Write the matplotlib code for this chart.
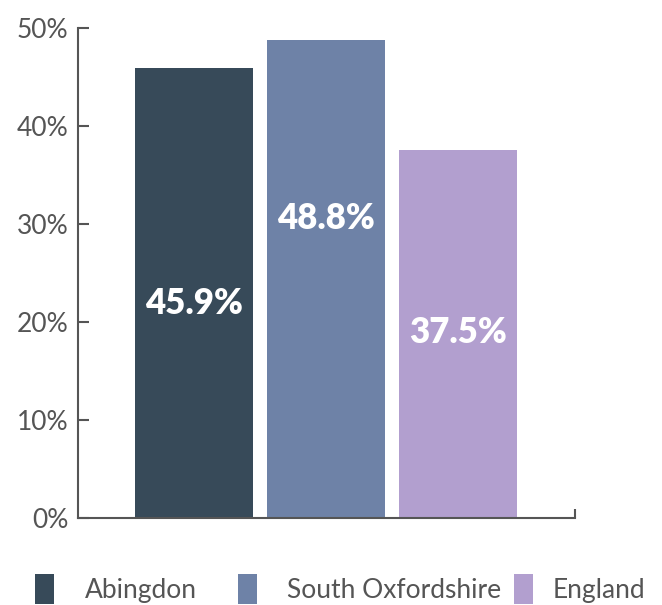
import matplotlib.pyplot as plt
from matplotlib.patches import Patch

areas = ["Abingdon", "South Oxfordshire", "England"]
values = [45.9, 48.8, 37.5]
colors = ["#374a59", "#6e82a7", "#b29fcf"]
yticks = [0, 10, 20, 30, 40, 50]

plt.rcParams["font.family"] = ["Lato", "DejaVu Sans"]

fig = plt.figure(figsize=(6.62, 6.05), dpi=100)
ax = fig.add_axes([0.1178, 0.1438, 0.7508, 0.81])

x = range(len(areas))
ax.bar(x, values, width=0.894, color=colors)

# labels sit at varying heights inside the bars, as in the original
label_y = [21.9, 30.6, 18.9]
for xi, v, ly in zip(x, values, label_y):
    ax.text(xi, ly, f"{v}%", ha="center", va="center", color="white",
            fontsize=25, fontweight="heavy")

ax.set_xlim(-0.879, 2.886)
ax.set_ylim(0, 50)
ax.set_yticks(yticks)
ax.set_yticklabels([f"{t}%" for t in yticks], fontsize=19, color="#555555")
ax.set_xticks([])
ax.tick_params(axis="y", direction="in", length=8, width=1.5, color="#555555", pad=7)

for s in ["top", "right"]:
    ax.spines[s].set_visible(False)
for s in ["left", "bottom"]:
    ax.spines[s].set_color("#555555")
    ax.spines[s].set_linewidth(1.5)

# small upward tick at the right end of the x axis
ax.plot([1, 1], [0, 0.018], transform=ax.transAxes, color="#555555",
        lw=1.5, clip_on=False, solid_capstyle="butt")

# one legend per entry so the uneven spacing of the original can be kept
legend_x = [0.053, 0.359, 0.776]
text_pad = [1.15, 1.15, 0.75]
for a, c, lx, tp in zip(areas, colors, legend_x, text_pad):
    fig.legend(handles=[Patch(facecolor=c, label=a)], loc="lower left",
               bbox_to_anchor=(lx, 0.002), frameon=False, fontsize=19,
               handlelength=0.72, handleheight=1.35, handletextpad=tp,
               labelcolor="#555555", borderaxespad=0, borderpad=0)

fig.savefig("out.png", dpi=100)
